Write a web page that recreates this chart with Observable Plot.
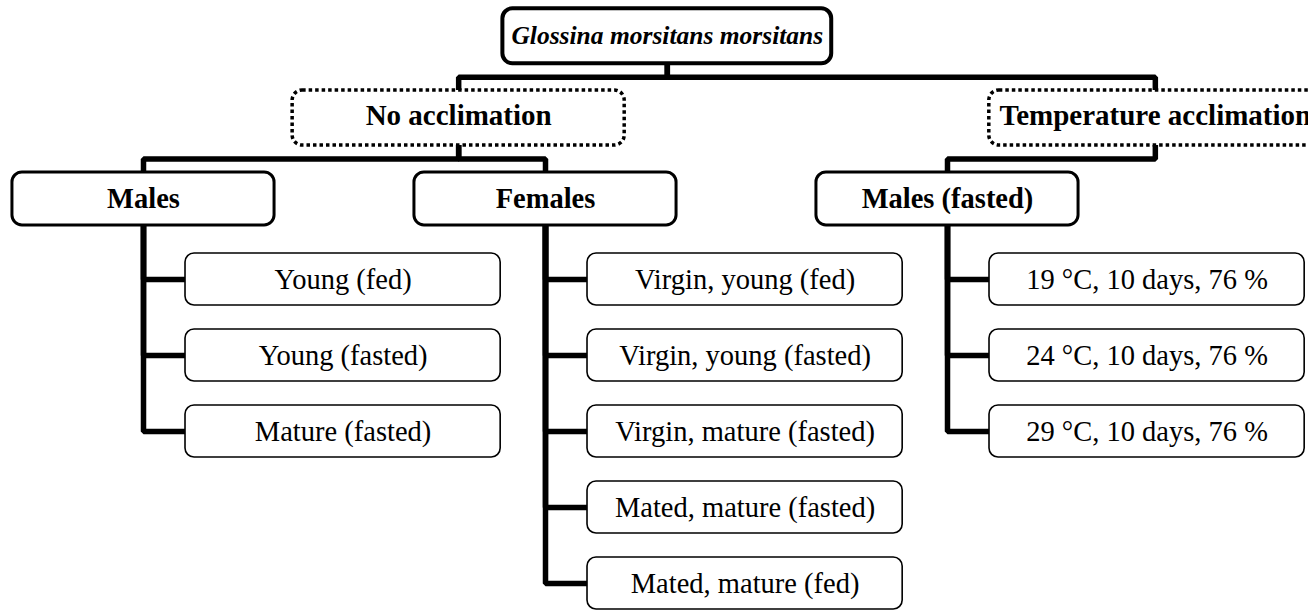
<!DOCTYPE html>
<html>
<head>
<meta charset="utf-8">
<script src="https://cdn.jsdelivr.net/npm/d3@7"></script>
<script src="https://cdn.jsdelivr.net/npm/@observablehq/plot@0.6"></script>
<style>
  html, body { margin: 0; padding: 0; background: #fff; overflow: hidden; }
  #chart svg { display: block; }
</style>
</head>
<body>
<div id="chart"></div>
<script>
// ---- content ----
const species = "Glossina morsitans morsitans";
const treatments = ["No acclimation", "Temperature acclimation"];
const groups = ["Males", "Females", "Males (fasted)"];
const groupTreatment = ["No acclimation", "No acclimation", "Temperature acclimation"];
const malesConditions = ["Young (fed)", "Young (fasted)", "Mature (fasted)"];
const femalesConditions = ["Virgin, young (fed)", "Virgin, young (fasted)", "Virgin, mature (fasted)", "Mated, mature (fasted)", "Mated, mature (fed)"];
const acclimationConditions = ["19 °C, 10 days, 76 %", "24 °C, 10 days, 76 %", "29 °C, 10 days, 76 %"];
const groupConditions = [malesConditions, femalesConditions, acclimationConditions];

// ---- layout (column units along x, row units along y) ----
const L = {
  rootCol: 1.303,
  treatmentCols: [0.784, 2.517],
  levelRow: [-3.2, -2.125, -1.06],
  halfW: [0.409, 0.413, 0.326],
  halfH: [0.362, 0.362, 0.349],
  leafOffset: 0.1045,
  leafW: 0.784,
  leafHalfH: 0.342
};

function box(label, depth, x, y) {
  return {label, depth, x, y,
    x1: x - L.halfW[depth], x2: x + L.halfW[depth],
    y1: y - L.halfH[depth], y2: y + L.halfH[depth]};
}

const rootNode = box(species, 0, L.rootCol, L.levelRow[0]);
const treatmentNodes = treatments.map((t, i) => box(t, 1, L.treatmentCols[i], L.levelRow[1]));
const groupNodes = groups.map((g, i) => box(g, 2, i, L.levelRow[2]));
const leafNodes = [];
groupConditions.forEach((conds, gi) => {
  conds.forEach((c, k) => {
    const x1 = gi + L.leafOffset, x2 = x1 + L.leafW;
    leafNodes.push({label: c, group: gi, x1, x2, x: (x1 + x2) / 2, y: k, y1: k - L.leafHalfH, y2: k + L.leafHalfH});
  });
});

// ---- connectors ----
const links = [];
let lid = 0;
function elbow(p, c) {
  const mid = (p.y2 + c.y1) / 2;
  const id = lid++;
  [[p.x, p.y2], [p.x, mid], [c.x, mid], [c.x, c.y1]].forEach(([x, y]) => links.push({id, x, y}));
}
treatmentNodes.forEach(t => elbow(rootNode, t));
groupNodes.forEach((g, i) => elbow(treatmentNodes[treatments.indexOf(groupTreatment[i])], g));
leafNodes.forEach(leaf => {
  const g = groupNodes[leaf.group];
  const id = lid++;
  [[g.x, g.y2], [g.x, leaf.y], [leaf.x1, leaf.y]].forEach(([x, y]) => links.push({id, x, y}));
});

const font = "Liberation Serif, Times New Roman, serif";

const chart = Plot.plot({
  width: 1308,
  height: 610,
  margin: 0,
  style: {background: "#fff"},
  x: {type: "linear", domain: [0, 2], range: [143, 947], axis: null},
  y: {type: "linear", domain: [0, 4], range: [279, 583], axis: null},
  marks: [
    Plot.line(links, {x: "x", y: "y", z: "id", stroke: "#000", strokeWidth: 5.5, strokeLinejoin: "miter", strokeLinecap: "square", curve: "linear"}),
    Plot.rect([rootNode], {x1: "x1", x2: "x2", y1: "y1", y2: "y2", fill: "#fff", stroke: "#000", strokeWidth: 4, rx: 10}),
    Plot.rect(treatmentNodes, {x1: "x1", x2: "x2", y1: "y1", y2: "y2", fill: "#fff", stroke: "#000", strokeWidth: 3.5, strokeDasharray: "3.5,3", rx: 10}),
    Plot.rect(groupNodes, {x1: "x1", x2: "x2", y1: "y1", y2: "y2", fill: "#fff", stroke: "#000", strokeWidth: 3, rx: 10}),
    Plot.rect(leafNodes, {x1: "x1", x2: "x2", y1: "y1", y2: "y2", fill: "#fff", stroke: "#000", strokeWidth: 1.6, rx: 9}),
    Plot.text([rootNode], {x: "x", y: "y", text: "label", fontFamily: font, fontSize: 25.5, fontWeight: "bold", fontStyle: "italic", fill: "#000"}),
    Plot.text(treatmentNodes, {x: "x", y: "y", text: "label", fontFamily: font, fontSize: 29, fontWeight: "bold", fill: "#000", dy: -2}),
    Plot.text(groupNodes, {x: "x", y: "y", text: "label", fontFamily: font, fontSize: 28.5, fontWeight: "bold", fill: "#000"}),
    Plot.text(leafNodes, {x: "x", y: "y", text: "label", fontFamily: font, fontSize: 28.5, fill: "#000"})
  ]
});
document.getElementById("chart").appendChild(chart);
</script>
</body>
</html>
